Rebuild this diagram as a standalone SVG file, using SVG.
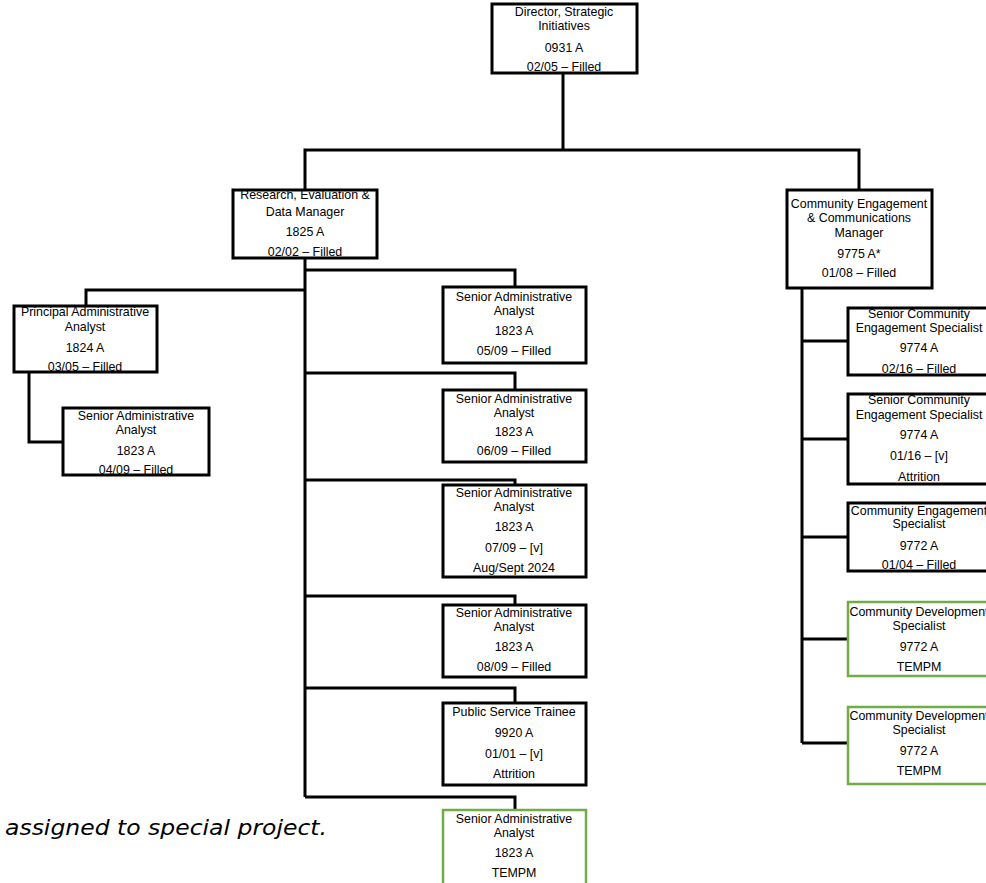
<svg xmlns="http://www.w3.org/2000/svg" width="986" height="883" viewBox="0 0 986 883">
<style>
.box{fill:#fff;stroke:#000;stroke-width:3}
.green{fill:#fff;stroke:#70AD47;stroke-width:2.5}
.t{font-family:"Liberation Sans",Arial,sans-serif;font-size:12.4px;text-anchor:middle;fill:#000}
.conn{fill:none;stroke:#000;stroke-width:3}
.note{font-family:"DejaVu Sans","Liberation Sans",sans-serif;font-size:21px;font-style:italic;fill:#000}
</style>
<rect x="0" y="0" width="986" height="883" fill="#fff"/>
<g id="connectors" class="conn">
<path d="M563,73 V150 M305,190 V150 H859 V190"/>
<path d="M305,258 V797"/>
<path d="M305,290 H86 V306"/>
<path d="M29,372 V442 H63"/>
<path d="M305,270 H515 V287"/>
<path d="M305,373 H515 V390"/>
<path d="M305,480 H515 V485"/>
<path d="M305,596 H515 V605"/>
<path d="M305,688 H515 V703"/>
<path d="M305,797 H515 V810"/>
<path d="M802,288 V743"/>
<path d="M802,341 H848"/>
<path d="M802,439 H848"/>
<path d="M802,537 H848"/>
<path d="M802,639 H848"/>
<path d="M802,743 H848"/>
</g>
<g id="director">
<rect class="box" x="492" y="4" width="145" height="69"/>
<text class="t" x="564" y="16">Director, Strategic</text>
<text class="t" x="564" y="30">Initiatives</text>
<text class="t" x="564" y="52">0931 A</text>
<text class="t" x="564" y="71">02/05 – Filled</text>
</g>
<g id="research-manager">
<rect class="box" x="233" y="190" width="144" height="68"/>
<text class="t" x="305" y="199">Research, Evaluation &amp;</text>
<text class="t" x="305" y="216">Data Manager</text>
<text class="t" x="305" y="236">1825 A</text>
<text class="t" x="305" y="256">02/02 – Filled</text>
</g>
<g id="community-manager">
<rect class="box" x="787" y="190" width="145" height="98"/>
<text class="t" x="859" y="208">Community Engagement</text>
<text class="t" x="859" y="222">&amp; Communications</text>
<text class="t" x="859" y="237">Manager</text>
<text class="t" x="859" y="258">9775 A*</text>
<text class="t" x="859" y="277">01/08 – Filled</text>
</g>
<g id="principal-analyst">
<rect class="box" x="14" y="306" width="143" height="66"/>
<text class="t" x="85" y="316">Principal Administrative</text>
<text class="t" x="85" y="331">Analyst</text>
<text class="t" x="85" y="352">1824 A</text>
<text class="t" x="85" y="371">03/05 – Filled</text>
</g>
<g id="senior-analyst-0409">
<rect class="box" x="63" y="408" width="146" height="67"/>
<text class="t" x="136" y="420">Senior Administrative</text>
<text class="t" x="136" y="434">Analyst</text>
<text class="t" x="136" y="455">1823 A</text>
<text class="t" x="136" y="474">04/09 – Filled</text>
</g>
<g id="senior-analyst-0509">
<rect class="box" x="443" y="287" width="143" height="76"/>
<text class="t" x="514" y="301">Senior Administrative</text>
<text class="t" x="514" y="315">Analyst</text>
<text class="t" x="514" y="335">1823 A</text>
<text class="t" x="514" y="355">05/09 – Filled</text>
</g>
<g id="senior-analyst-0609">
<rect class="box" x="443" y="390" width="143" height="72"/>
<text class="t" x="514" y="403">Senior Administrative</text>
<text class="t" x="514" y="417">Analyst</text>
<text class="t" x="514" y="436">1823 A</text>
<text class="t" x="514" y="455">06/09 – Filled</text>
</g>
<g id="senior-analyst-0709">
<rect class="box" x="443" y="485" width="143" height="92"/>
<text class="t" x="514" y="497">Senior Administrative</text>
<text class="t" x="514" y="511">Analyst</text>
<text class="t" x="514" y="531">1823 A</text>
<text class="t" x="514" y="552">07/09 – [v]</text>
<text class="t" x="514" y="572">Aug/Sept 2024</text>
</g>
<g id="senior-analyst-0809">
<rect class="box" x="443" y="605" width="143" height="72"/>
<text class="t" x="514" y="617">Senior Administrative</text>
<text class="t" x="514" y="631">Analyst</text>
<text class="t" x="514" y="651">1823 A</text>
<text class="t" x="514" y="671">08/09 – Filled</text>
</g>
<g id="public-service-trainee">
<rect class="box" x="443" y="703" width="143" height="82"/>
<text class="t" x="514" y="716">Public Service Trainee</text>
<text class="t" x="514" y="737">9920 A</text>
<text class="t" x="514" y="758">01/01 – [v]</text>
<text class="t" x="514" y="778">Attrition</text>
</g>
<g id="senior-analyst-tempm">
<rect class="green" x="443" y="810" width="143" height="80"/>
<text class="t" x="514" y="823">Senior Administrative</text>
<text class="t" x="514" y="837">Analyst</text>
<text class="t" x="514" y="857">1823 A</text>
<text class="t" x="514" y="877">TEMPM</text>
</g>
<g id="senior-ces-0216">
<rect class="box" x="848" y="308" width="148" height="67"/>
<text class="t" x="919" y="318">Senior Community</text>
<text class="t" x="919" y="332">Engagement Specialist</text>
<text class="t" x="919" y="352">9774 A</text>
<text class="t" x="919" y="373">02/16 – Filled</text>
</g>
<g id="senior-ces-0116">
<rect class="box" x="848" y="394" width="148" height="90"/>
<text class="t" x="919" y="404">Senior Community</text>
<text class="t" x="919" y="419">Engagement Specialist</text>
<text class="t" x="919" y="439">9774 A</text>
<text class="t" x="919" y="460">01/16 – [v]</text>
<text class="t" x="919" y="481">Attrition</text>
</g>
<g id="ces-0104">
<rect class="box" x="848" y="503" width="148" height="68"/>
<text class="t" x="919" y="515">Community Engagement</text>
<text class="t" x="919" y="528">Specialist</text>
<text class="t" x="919" y="550">9772 A</text>
<text class="t" x="919" y="569">01/04 – Filled</text>
</g>
<g id="cds-1">
<rect class="green" x="848" y="602" width="148" height="74"/>
<text class="t" x="919" y="616">Community Development</text>
<text class="t" x="919" y="630">Specialist</text>
<text class="t" x="919" y="651">9772 A</text>
<text class="t" x="919" y="671">TEMPM</text>
</g>
<g id="cds-2">
<rect class="green" x="848" y="707" width="148" height="77"/>
<text class="t" x="919" y="720">Community Development</text>
<text class="t" x="919" y="734">Specialist</text>
<text class="t" x="919" y="755">9772 A</text>
<text class="t" x="919" y="775">TEMPM</text>
</g>
<text class="note" x="5" y="835" textLength="322" lengthAdjust="spacingAndGlyphs">assigned to special project.</text>
</svg>
